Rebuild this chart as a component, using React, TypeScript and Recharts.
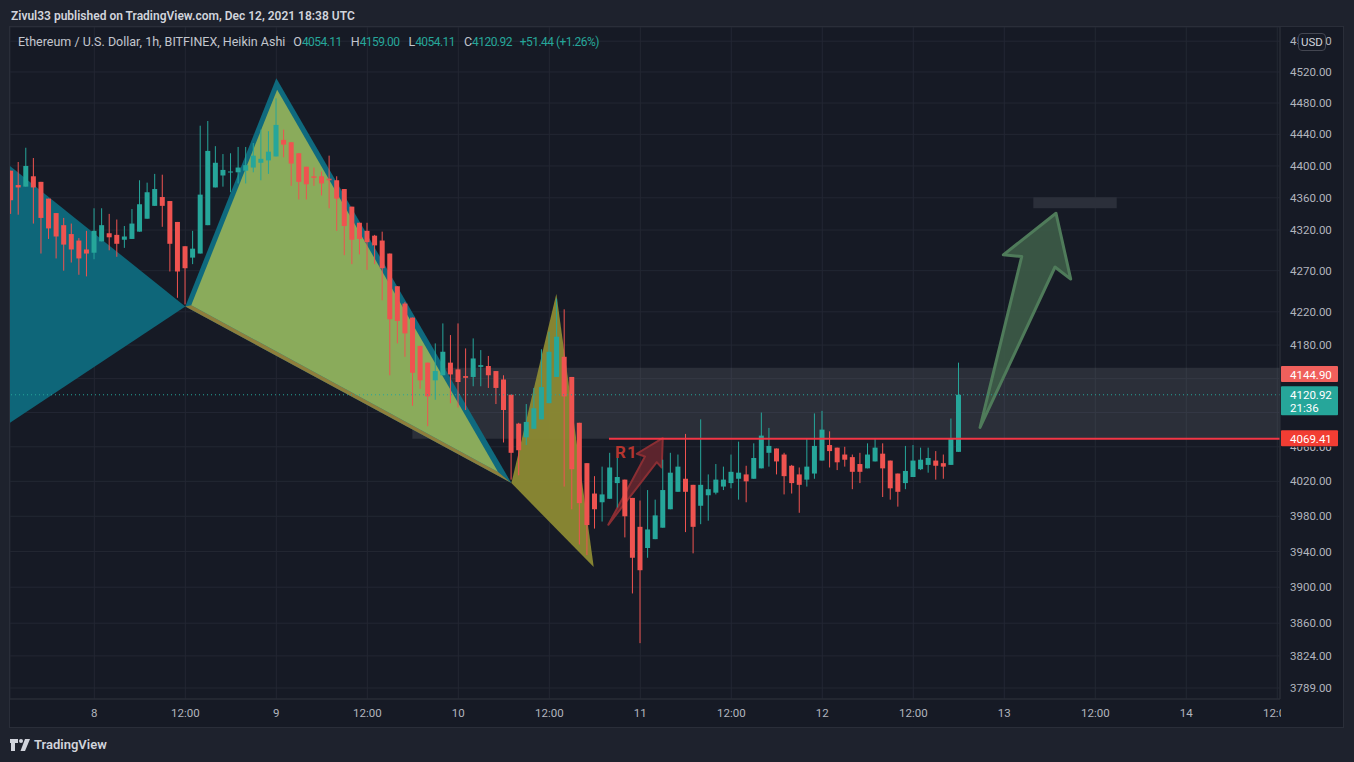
import React from "react";
import {
  ComposedChart,
  Bar,
  XAxis,
  YAxis,
  CartesianGrid,
  ReferenceArea,
  ReferenceLine,
  ReferenceDot,
} from "recharts";

// ETH/USD 1h Heikin Ashi (Bitfinex). Hours are counted from Dec 8 00:00 UTC,
// the first candle is Dec 7 13:00.
const FIRST_HOUR = -11;

const opens = [
  4394, 4376, 4374, 4387, 4380, 4359, 4341, 4326, 4315, 4307, 4296, 4292, 4306, 4316, 4314, 4308,
  4309, 4318, 4334, 4350, 4361, 4356, 4330, 4300, 4286, 4291, 4326, 4373, 4388, 4392, 4392, 4394,
  4398, 4404, 4407, 4412, 4433, 4430, 4416, 4399, 4387, 4387, 4384, 4382, 4371, 4349, 4329, 4319,
  4313, 4307, 4291, 4251, 4230, 4213, 4179, 4159, 4138, 4144, 4159, 4151, 4143, 4142, 4154, 4155,
  4149, 4139, 4121, 4087, 4071, 4081, 4092, 4111, 4142, 4166, 4142, 4088, 4041, 4006, 3996, 4000,
  4018, 4022, 4001, 3968, 3944, 3954, 3967, 3988, 4008, 4023, 4016, 3992, 4004, 4007, 4014, 4018,
  4023, 4028, 4023, 4035, 4053, 4058, 4051, 4038, 4028, 4022, 4029, 4044, 4062, 4059, 4051, 4048,
  4040, 4035, 4043, 4052, 4044, 4029, 4018, 4025, 4034, 4039, 4044, 4041, 4039, 4054.11,
];
const highs = [
  4394, 4405, 4423, 4410, 4380, 4359, 4341, 4335, 4328, 4310, 4319, 4347, 4347, 4340, 4333, 4325,
  4346, 4382, 4379, 4390, 4389, 4356, 4330, 4300, 4319, 4451, 4457, 4425, 4415, 4416, 4424, 4424,
  4429, 4446, 4444, 4486, 4446, 4430, 4416, 4399, 4398, 4393, 4413, 4387, 4371, 4349, 4329, 4329,
  4314, 4318, 4291, 4251, 4232, 4213, 4179, 4159, 4182, 4206, 4192, 4206, 4176, 4188, 4174, 4167,
  4149, 4144, 4121, 4088, 4110, 4129, 4175, 4196, 4236, 4223, 4142, 4088, 4041, 4026, 4037, 4053,
  4052, 4022, 4001, 3998, 4010, 3999, 4045, 4053, 4051, 4075, 4016, 4092, 4028, 4040, 4037, 4051,
  4066, 4038, 4064, 4100, 4082, 4058, 4053, 4039, 4036, 4070, 4099, 4102, 4078, 4059, 4060, 4051,
  4053, 4064, 4069, 4064, 4044, 4029, 4061, 4062, 4059, 4059, 4055, 4051, 4093, 4159.0,
];
const lows = [
  4340, 4339, 4374, 4328, 4291, 4309, 4285, 4270, 4280, 4265, 4263, 4284, 4306, 4295, 4287, 4298,
  4309, 4318, 4334, 4350, 4324, 4269, 4237, 4229, 4278, 4291, 4326, 4373, 4374, 4367, 4378, 4378,
  4392, 4382, 4390, 4412, 4411, 4375, 4358, 4358, 4375, 4363, 4347, 4319, 4289, 4278, 4290, 4271,
  4278, 4234, 4144, 4182, 4166, 4108, 4128, 4084, 4115, 4144, 4111, 4106, 4103, 4131, 4131, 4129,
  4110, 4065, 4022, 4027, 4062, 4081, 4092, 4111, 4142, 4014, 3988, 3948, 3936, 3966, 3974, 4000,
  3990, 3956, 3893, 3838, 3933, 3954, 3967, 3988, 4008, 3962, 3938, 3971, 3975, 4005, 4010, 4012,
  3999, 3996, 4023, 4035, 4037, 4028, 4005, 4006, 3984, 4014, 4023, 4044, 4036, 4033, 4037, 4011,
  4018, 4035, 4043, 4002, 3999, 3991, 4011, 4025, 4033, 4030, 4022, 4023, 4039, 4054.11,
];
const closes = [
  4357, 4373, 4400, 4373, 4335, 4322, 4312, 4302, 4296, 4285, 4291, 4319, 4326, 4311, 4303, 4312,
  4328, 4352, 4367, 4371, 4350, 4303, 4269, 4273, 4297, 4364, 4419, 4404, 4395, 4393, 4398, 4401,
  4413, 4409, 4418, 4452, 4427, 4403, 4380, 4377, 4385, 4378, 4382, 4359, 4325, 4308, 4309, 4305,
  4301, 4273, 4211, 4209, 4194, 4147, 4138, 4119, 4149, 4172, 4145, 4136, 4141, 4164, 4156, 4144,
  4129, 4103, 4053, 4056, 4089, 4105, 4130, 4172, 4190, 4119, 4034, 3995, 3970, 3988, 4005, 4036,
  4025, 3980, 3933, 3919, 3965, 3981, 4010, 4030, 4037, 4008, 3968, 4016, 4011, 4022, 4022, 4031,
  4030, 4020, 4047, 4073, 4061, 4043, 4026, 4018, 4016, 4037, 4061, 4080, 4055, 4042, 4045, 4031,
  4031, 4051, 4059, 4035, 4012, 4008, 4032, 4044, 4045, 4047, 4038, 4037, 4069.48, 4120.92,
];

const timeTicks = [0, 12, 24, 36, 48, 60, 72, 84, 96, 108, 120, 132, 144, 156];
const timeLabels = ["8", "12:00", "9", "12:00", "10", "12:00", "11", "12:00", "12", "12:00", "13", "12:00", "14", "12:00"];
const priceTicks = [
  3789, 3824, 3860, 3900, 3940, 3980, 4020, 4060, 4100, 4140, 4180, 4220, 4270, 4320, 4360, 4400,
  4440, 4480, 4520, 4560,
];
// tick labels hidden behind the price tags on the scale
const hiddenTickLabels = [4100, 4140];
const halfHiddenTickLabels = [4060];

// drawings, as [hour, price] points
const cyanTriangle = [[-11.12, 4400], [12, 4226.4], [-11.12, 4088]];
const tealTriangle = [[12, 4226.4], [24, 4511.9], [55, 4018]];
const brownEdge = [[12, 4226.4], [55, 4018], [53.24, 4030.9], [12.78, 4228]];
const greenTriangle = [[12.78, 4228], [24.11, 4497], [53.24, 4030.9]];
const oliveTriangle = [[55, 4018], [60.93, 4241.8], [65.86, 3922.5]];
const redArrow = [[67.78, 3970.3], [72.62, 4048.7], [71.53, 4051.9], [74.96, 4070.1], [74.83, 4036], [74.17, 4042.2]];
const greenArrow = [[116.8, 4082.5], [122.3, 4287.3], [119.87, 4289.4], [126.82, 4340.8], [128.76, 4259.7], [126.69, 4274.5]];
const zoneHours = [41.94, 156.36];
const zonePrices = [4069.41, 4153];
const boxHours = [123.83, 134.83];
const boxPrices = [4347, 4360.8];
const resistance = 4069.41;
const resistanceStart = 67.87;
const tagPrice = 4144.9;
const r1Point = [68.67, 4047.2];

const X_DOMAIN = [-11.12, 156.36];
const Y_DOMAIN = [3777.1, 4578.6];

const UP = "#26a69a";
const DOWN = "#ef5350";
const BG = "#161a25";
const GRID = "#232733";
const AXIS_TEXT = "#b2b5be";
const FONT = "Roboto, 'Noto Sans', sans-serif";

const candles = opens.map((o, i) => ({
  h: FIRST_HOUR + i,
  open: o,
  high: highs[i],
  low: lows[i],
  close: closes[i],
  range: [lows[i], highs[i]],
}));

const last = candles[candles.length - 1];
const prevClose = closes[closes.length - 2];
const change = last.close - prevClose;
const changePct = (change / prevClose) * 100;

function Candle(props: any) {
  const { x, y, width, height, payload } = props;
  if (!payload || height == null) return null;
  const top = Math.min(y, y + height);
  const h = Math.abs(height);
  const lnHigh = Math.log(payload.high);
  const span = lnHigh - Math.log(payload.low);
  const toY = (p: number) => (span > 0 ? top + ((lnHigh - Math.log(p)) / span) * h : top);
  const cx = x + width / 2;
  const color = payload.close >= payload.open ? UP : DOWN;
  const bTop = toY(Math.max(payload.open, payload.close));
  const bBot = toY(Math.min(payload.open, payload.close));
  return (
    <g>
      <rect x={cx - 0.5} y={top} width={1} height={Math.max(h, 1)} fill={color} />
      <rect x={cx - 2.5} y={bTop} width={5} height={Math.max(bBot - bTop, 1)} fill={color} />
    </g>
  );
}

// polygon drawn inside a ReferenceArea spanning its bounding box (log price scale)
function polygon(points: number[][], style: any, key: string) {
  const xs = points.map((p) => p[0]);
  const ys = points.map((p) => p[1]);
  const x1 = Math.min(...xs);
  const x2 = Math.max(...xs);
  const lo = Math.min(...ys);
  const hi = Math.max(...ys);
  return (
    <ReferenceArea
      key={key}
      x1={x1}
      x2={x2}
      y1={lo}
      y2={hi}
      ifOverflow="hidden"
      shape={(s: any) => {
        const pts = points
          .map(([hr, p]) => {
            const px = s.x + ((hr - x1) / (x2 - x1)) * s.width;
            const py = s.y + ((Math.log(hi) - Math.log(p)) / (Math.log(hi) - Math.log(lo))) * s.height;
            return `${px},${py}`;
          })
          .join(" ");
        return <polygon points={pts} {...style} />;
      }}
    />
  );
}

function PriceTag({ viewBox, text, sub, bg }: any) {
  if (!viewBox) return null;
  const x = viewBox.x + viewBox.width + 1;
  const y = viewBox.y;
  return (
    <g>
      <rect x={x} y={y - 8.5} width={57} height={sub ? 29 : 16} fill={bg} rx={1} />
      <text x={x + 9} y={y + 4} fill="#ffffff" fontSize={11.5} fontFamily={FONT}>
        {text}
      </text>
      {sub && (
        <text x={x + 9} y={y + 17.5} fill="#ffffff" fontSize={11.5} fontFamily={FONT}>
          {sub}
        </text>
      )}
    </g>
  );
}

function TimeTick({ x, y, payload }: any) {
  const label = timeLabels[timeTicks.indexOf(payload.value)];
  return (
    <text x={x} y={y + 18} textAnchor="middle" fill={AXIS_TEXT} fontSize={11.5} fontFamily={FONT}>
      {label}
    </text>
  );
}

function PriceTick({ x, y, payload }: any) {
  const v = payload.value;
  if (hiddenTickLabels.includes(v)) return null;
  const half = halfHiddenTickLabels.includes(v);
  const clipId = `tick-clip-${v}`;
  return (
    <g>
      {half && (
        <clipPath id={clipId}>
          <rect x={x - 2} y={y} width={60} height={10} />
        </clipPath>
      )}
      <text
        x={x}
        y={y + 4}
        textAnchor="start"
        fill={AXIS_TEXT}
        fontSize={11.5}
        fontFamily={FONT}
        clipPath={half ? `url(#${clipId})` : undefined}
      >
        {v.toFixed(2)}
      </text>
    </g>
  );
}

function Logo() {
  return (
    <svg width={20} height={12} viewBox="0 0 20 12">
      <path d="M0 0h8v4H5v8H1V4H0z" fill="#d1d4dc" />
      <circle cx={11} cy={2} r={2} fill="#d1d4dc" />
      <path d="M15 0h5l-5 12h-4.5z" fill="#d1d4dc" />
    </svg>
  );
}

export default function App() {
  const num = (v: number) => v.toFixed(2);
  const valStyle = { color: UP, fontSize: 12, letterSpacing: -0.55 };
  return (
    <div
      style={{
        position: "absolute",
        left: 0,
        top: 0,
        width: 1354,
        height: 762,
        background: "#1e222d",
        fontFamily: FONT,
        overflow: "hidden",
      }}
    >
      <div style={{ position: "absolute", left: 11, top: 9, fontSize: 12, fontWeight: 600, color: "#d1d4dc" }}>
        Zivul33 published on TradingView.com, Dec 12, 2021 18:38 UTC
      </div>

      <div style={{ position: "absolute", left: 9, top: 26, width: 1335, height: 702, background: BG }}>
        <ComposedChart width={1335} height={702} data={candles} margin={{ top: 1, right: 0, bottom: 0, left: 1 }}>
          <CartesianGrid stroke={GRID} />
          <XAxis
            dataKey="h"
            type="number"
            domain={X_DOMAIN}
            allowDataOverflow
            ticks={timeTicks}
            interval={0}
            tick={<TimeTick />}
            tickLine={false}
            tickSize={0}
            tickMargin={0}
            axisLine={{ stroke: "#2a2e39" }}
            height={29}
          />
          <YAxis
            orientation="right"
            type="number"
            scale="log"
            domain={Y_DOMAIN}
            allowDataOverflow
            ticks={priceTicks}
            interval={0}
            tick={<PriceTick />}
            tickLine={false}
            tickSize={0}
            tickMargin={10}
            axisLine={{ stroke: "#2a2e39" }}
            width={64}
          />

          <ReferenceArea
            x1={zoneHours[0]}
            x2={zoneHours[1]}
            y1={zonePrices[0]}
            y2={zonePrices[1]}
            ifOverflow="hidden"
            fill="#787b86"
            fillOpacity={0.22}
            stroke="none"
          />
          {polygon(cyanTriangle, { fill: "#0e6679" }, "cyan")}
          {polygon(tealTriangle, { fill: "#0f6a7e" }, "teal")}
          {polygon(brownEdge, { fill: "#8e7e3c" }, "brown")}
          {polygon(greenTriangle, { fill: "#8aab5b" }, "green")}
          {polygon(oliveTriangle, { fill: "#8c8a33", fillOpacity: 0.95 }, "olive")}
          {polygon(redArrow, { fill: "#7a2a30", fillOpacity: 0.7, stroke: "#8a2e33", strokeWidth: 2, strokeLinejoin: "round" }, "redArrow")}
          {polygon(greenArrow, { fill: "#3d5c48", fillOpacity: 0.9, stroke: "#4f7b5a", strokeWidth: 3, strokeLinejoin: "round" }, "greenArrow")}
          <ReferenceArea
            x1={boxHours[0]}
            x2={boxHours[1]}
            y1={boxPrices[0]}
            y2={boxPrices[1]}
            ifOverflow="hidden"
            fill="#2b2f3a"
            fillOpacity={1}
            stroke="none"
          />

          <Bar dataKey="range" barSize={5} shape={<Candle />} isAnimationActive={false} />

          <ReferenceLine
            y={last.close}
            stroke={UP}
            strokeDasharray="1 3"
            label={<PriceTag text={num(last.close)} sub="21:36" bg={UP} />}
          />
          <ReferenceLine
            segment={[
              { x: resistanceStart, y: resistance },
              { x: X_DOMAIN[1], y: resistance },
            ]}
            stroke="#f23645"
            strokeWidth={2}
          />
          <ReferenceLine y={resistance} stroke="none" label={<PriceTag text={num(resistance)} bg="#f23d33" />} />
          <ReferenceLine y={tagPrice} stroke="none" label={<PriceTag text={num(tagPrice)} bg="#f0605c" />} />
          <ReferenceDot
            x={r1Point[0]}
            y={r1Point[1]}
            r={0}
            shape={(p: any) => (
              <text x={p.cx} y={p.cy} fill="#b5352f" fontSize={17} fontWeight={700} fontFamily={FONT} letterSpacing={1}>
                R1
              </text>
            )}
          />
        </ComposedChart>

        <div style={{ position: "absolute", left: 1272, top: 674, width: 62, height: 27, background: BG }} />
        <div
          style={{
            position: "absolute",
            left: 1289,
            top: 7,
            width: 26,
            height: 16,
            border: "1px solid #434651",
            borderRadius: 4,
            background: BG,
            color: "#d1d4dc",
            fontSize: 11.5,
            lineHeight: "16px",
            textAlign: "center",
          }}
        >
          USD
        </div>
        <div
          style={{
            position: "absolute",
            left: 9,
            top: 8,
            fontSize: 12.5,
            color: "#c3c6ce",
            whiteSpace: "nowrap",
          }}
        >
          Ethereum / U.S. Dollar, 1h, BITFINEX, Heikin Ashi
          <span style={{ marginLeft: 8 }}>O</span>
          <span style={valStyle}>{num(last.open)}</span>
          <span style={{ marginLeft: 9 }}>H</span>
          <span style={valStyle}>{num(last.high)}</span>
          <span style={{ marginLeft: 9 }}>L</span>
          <span style={valStyle}>{num(last.low)}</span>
          <span style={{ marginLeft: 9 }}>C</span>
          <span style={valStyle}>{num(last.close)}</span>
          <span style={{ ...valStyle, marginLeft: 8 }}>
            +{num(change)} (+{num(changePct)}%)
          </span>
        </div>
        <div
          style={{
            position: "absolute",
            left: 0,
            top: 0,
            width: 1333,
            height: 700,
            border: "1px solid #2a2e39",
            pointerEvents: "none",
          }}
        />
      </div>

      <div
        style={{
          position: "absolute",
          left: 10,
          top: 737,
          display: "flex",
          alignItems: "center",
          gap: 4,
          color: "#d1d4dc",
          fontSize: 13,
          fontWeight: 600,
        }}
      >
        <Logo />
        <span>TradingView</span>
      </div>
    </div>
  );
}
